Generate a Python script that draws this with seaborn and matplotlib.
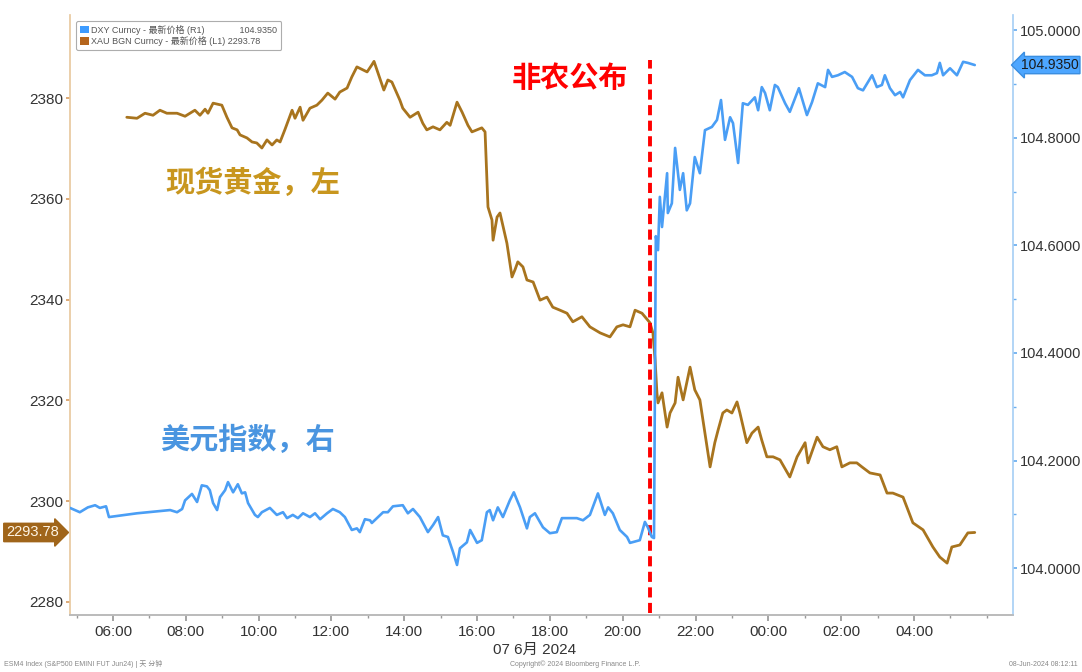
import matplotlib
matplotlib.use("Agg")
import matplotlib.pyplot as plt
import numpy as np
import pandas as pd
import seaborn as sns
from matplotlib.patches import Patch
from matplotlib.ticker import FixedLocator, MultipleLocator, FuncFormatter

# ---------------- data (hours since 00:00, 7 Jun 2024) ----------------
gold_hours = [6.38, 6.66, 6.88, 7.10, 7.29, 7.48, 7.76, 7.98, 8.25, 8.39, 8.53, 8.61, 8.75, 8.99,
              9.13, 9.27, 9.41, 9.49, 9.68, 9.82, 9.95, 10.09, 10.23, 10.37, 10.50, 10.59, 10.72,
              10.92, 11.00, 11.14, 11.22, 11.41, 11.60, 11.74, 11.90, 12.10, 12.23, 12.43, 12.56,
              12.70, 12.98, 13.11, 13.17, 13.28, 13.44, 13.55, 13.66, 13.88, 13.96, 14.16, 14.38,
              14.51, 14.62, 14.79, 14.98, 15.17, 15.26, 15.45, 15.59, 15.75, 15.86, 16.13, 16.22,
              16.30, 16.41, 16.44, 16.55, 16.63, 16.82, 16.96, 17.04, 17.12, 17.26, 17.37, 17.54,
              17.73, 17.92, 18.08, 18.28, 18.47, 18.63, 18.88, 19.10, 19.38, 19.65, 19.84, 20.01,
              20.20, 20.34, 20.53, 20.75, 20.83, 20.89, 20.94, 20.97, 21.08, 21.22, 21.30, 21.44,
              21.52, 21.66, 21.85, 21.98, 22.12, 22.26, 22.40, 22.53, 22.62, 22.75, 22.86, 23.00,
              23.14, 23.22, 23.41, 23.55, 23.72, 23.82, 23.96, 24.13, 24.32, 24.59, 24.79, 25.01,
              25.09, 25.34, 25.50, 25.69, 25.88, 26.02, 26.24, 26.43, 26.57, 26.79, 27.07, 27.26,
              27.42, 27.70, 27.97, 28.25, 28.52, 28.71, 28.91, 29.04, 29.26, 29.48, 29.67]
gold_price = [2376.2, 2376.0, 2377.0, 2376.6, 2377.6, 2377.0, 2377.0, 2376.4, 2377.6, 2376.6,
              2377.8, 2377.0, 2379.0, 2378.6, 2376.2, 2374.1, 2373.7, 2372.7, 2372.1, 2371.3,
              2371.1, 2370.1, 2371.7, 2370.7, 2371.7, 2371.3, 2373.7, 2377.6, 2376.0, 2378.2,
              2375.6, 2378.0, 2378.6, 2379.6, 2381.0, 2379.8, 2381.2, 2382.0, 2384.2, 2386.2,
              2385.2, 2386.6, 2387.3, 2385.0, 2381.6, 2383.6, 2383.2, 2379.6, 2378.0, 2376.2,
              2377.2, 2375.0, 2373.7, 2374.3, 2373.7, 2375.2, 2374.6, 2379.2, 2377.2, 2374.6,
              2373.3, 2374.1, 2373.3, 2358.4, 2355.8, 2351.8, 2356.4, 2357.2, 2351.2, 2344.5,
              2345.9, 2347.5, 2346.5, 2343.9, 2343.5, 2339.9, 2340.5, 2338.5, 2337.9, 2337.3,
              2335.6, 2336.6, 2334.6, 2333.4, 2332.6, 2334.6, 2335.0, 2334.6, 2337.9, 2337.3,
              2335.4, 2333.4, 2328.0, 2321.5, 2319.5, 2321.5, 2314.7, 2317.5, 2319.5, 2324.6,
              2320.1, 2326.6, 2322.1, 2320.1, 2313.5, 2306.8, 2311.6, 2314.1, 2317.5, 2318.1,
              2317.5, 2319.7, 2317.5, 2311.6, 2313.5, 2314.7, 2312.1, 2308.8, 2308.8, 2308.2,
              2304.8, 2308.8, 2311.6, 2307.6, 2312.7, 2310.8, 2310.2, 2310.8, 2306.8, 2307.6,
              2307.6, 2306.8, 2305.6, 2305.2, 2301.6, 2301.6, 2300.8, 2295.7, 2294.3, 2290.9,
              2288.9, 2287.7, 2290.9, 2291.3, 2293.7, 2293.78]

dxy_hours = [4.82, 5.09, 5.31, 5.51, 5.64, 5.81, 5.89, 6.66, 7.57, 7.76, 7.90, 7.98, 8.17, 8.31,
             8.44, 8.58, 8.66, 8.75, 8.86, 8.94, 9.08, 9.16, 9.30, 9.43, 9.54, 9.63, 9.71, 9.90,
             9.98, 10.09, 10.31, 10.50, 10.67, 10.78, 10.94, 11.08, 11.22, 11.41, 11.55, 11.69,
             11.88, 12.04, 12.23, 12.37, 12.56, 12.70, 12.78, 12.92, 13.06, 13.11, 13.42, 13.55,
             13.69, 13.96, 14.10, 14.24, 14.43, 14.65, 14.79, 14.93, 15.06, 15.20, 15.34, 15.45,
             15.53, 15.72, 15.81, 16.00, 16.13, 16.27, 16.35, 16.44, 16.57, 16.71, 16.90, 17.01,
             17.18, 17.37, 17.45, 17.59, 17.81, 18.00, 18.19, 18.33, 18.55, 18.74, 18.91, 19.10,
             19.32, 19.51, 19.60, 19.73, 19.92, 20.12, 20.20, 20.47, 20.61, 20.69, 20.80, 20.86,
             20.91, 20.97, 21.02, 21.08, 21.22, 21.24, 21.35, 21.44, 21.57, 21.66, 21.76, 21.85,
             21.98, 22.12, 22.26, 22.45, 22.59, 22.70, 22.81, 22.95, 23.03, 23.17, 23.30, 23.44,
             23.63, 23.72, 23.82, 23.91, 24.04, 24.18, 24.26, 24.46, 24.59, 24.68, 24.84, 25.06,
             25.20, 25.36, 25.56, 25.64, 25.75, 25.91, 26.10, 26.30, 26.46, 26.60, 26.85, 26.98,
             27.12, 27.20, 27.34, 27.48, 27.62, 27.70, 27.89, 28.11, 28.30, 28.49, 28.63, 28.71,
             28.80, 28.99, 29.18, 29.35, 29.48, 29.67]
dxy_value = [104.112, 104.104, 104.113, 104.117, 104.112, 104.115, 104.095, 104.102, 104.108,
             104.104, 104.110, 104.126, 104.138, 104.123, 104.154, 104.152, 104.145, 104.121,
             104.108, 104.132, 104.145, 104.160, 104.141, 104.156, 104.139, 104.141, 104.121,
             104.099, 104.095, 104.104, 104.112, 104.099, 104.104, 104.093, 104.099, 104.093,
             104.102, 104.095, 104.102, 104.091, 104.102, 104.110, 104.104, 104.095, 104.071,
             104.074, 104.067, 104.091, 104.089, 104.084, 104.104, 104.104, 104.115, 104.117,
             104.102, 104.110, 104.095, 104.067, 104.080, 104.095, 104.061, 104.058, 104.030,
             104.006, 104.037, 104.048, 104.071, 104.047, 104.052, 104.104, 104.108, 104.089,
             104.113, 104.095, 104.126, 104.141, 104.113, 104.074, 104.095, 104.102, 104.076,
             104.065, 104.067, 104.093, 104.093, 104.093, 104.089, 104.099, 104.139, 104.099,
             104.113, 104.102, 104.071, 104.058, 104.047, 104.052, 104.086, 104.076, 104.058,
             104.056, 104.617, 104.591, 104.690, 104.634, 104.734, 104.660, 104.678, 104.781,
             104.703, 104.734, 104.665, 104.678, 104.764, 104.734, 104.814, 104.820, 104.833,
             104.870, 104.796, 104.838, 104.827, 104.753, 104.864, 104.861, 104.875, 104.851,
             104.894, 104.883, 104.851, 104.898, 104.894, 104.864, 104.848, 104.864, 104.892,
             104.842, 104.866, 104.901, 104.894, 104.926, 104.913, 104.916, 104.922, 104.913,
             104.892, 104.888, 104.916, 104.894, 104.898, 104.916, 104.892, 104.879, 104.885,
             104.875, 104.907, 104.926, 104.916, 104.916, 104.920, 104.939, 104.916, 104.929,
             104.916, 104.941, 104.939, 104.935]

nfp_hour = 20.75
gold_last = 2293.78
dxy_last = 104.9350
x_tick_hours = [6, 8, 10, 12, 14, 16, 18, 20, 22, 24, 26, 28]
left_ticks = [2280, 2300, 2320, 2340, 2360, 2380]
right_ticks = [104.0, 104.2, 104.4, 104.6, 104.8, 105.0]

gold_df = pd.DataFrame({"hour": gold_hours, "price": gold_price})
dxy_df = pd.DataFrame({"hour": dxy_hours, "value": dxy_value})

# ---------------- style ----------------
sns.set_theme(style="white")
plt.rcParams['font.family'] = ['Liberation Sans', 'Noto Sans CJK SC', 'DejaVu Sans']
CJK = ['Noto Sans CJK SC', 'DejaVu Sans']
LAT_CJK = ['Liberation Sans', 'Noto Sans CJK SC', 'DejaVu Sans']

gold_line = '#A8741E'
gold_box = '#A0651A'
gold_text = '#C8961E'
blue_line = '#4A9EF5'
blue_text = '#4A95E0'
tick_col = '#333333'

W, H = 1082, 672
fig = plt.figure(figsize=(W / 100, H / 100), dpi=100)
fig.patch.set_facecolor('white')
ax = fig.add_axes([70 / W, 1 - 615 / H, (1013 - 70) / W, 600 / H])
ax2 = ax.twinx()

sns.lineplot(data=gold_df, x="hour", y="price", ax=ax, color=gold_line, lw=2.0,
             estimator=None, sort=False)
sns.lineplot(data=dxy_df, x="hour", y="value", ax=ax2, color=blue_line, lw=1.9,
             estimator=None, sort=False)

ax.set_xlim(4.82, 30.72)
ax.set_ylim(2277.4, 2396.5)
ax2.set_ylim(103.913, 105.028)
ax.set_xlabel('')
ax.set_ylabel('')
ax2.set_ylabel('')

# x axis
ax.xaxis.set_major_locator(FixedLocator(x_tick_hours))
ax.xaxis.set_minor_locator(MultipleLocator(1))
ax.xaxis.set_major_formatter(FuncFormatter(lambda v, p: f"{int(round(v)) % 24:02d}:00"))
ax.tick_params(axis='x', which='major', length=4, color='#999999', labelsize=11,
               labelcolor=tick_col, pad=3, bottom=True)
ax.tick_params(axis='x', which='minor', length=2, color='#999999', bottom=True)

# left axis
ax.yaxis.set_major_locator(FixedLocator(left_ticks))
ax.yaxis.set_major_formatter(FuncFormatter(lambda v, p: f"{v:.0f}"))
ax.tick_params(axis='y', length=3, color='#D9A066', labelsize=11, labelcolor=tick_col,
               pad=2, left=True)

# right axis
ax2.yaxis.set_major_locator(FixedLocator(right_ticks))
ax2.yaxis.set_minor_locator(FixedLocator([104.1, 104.3, 104.5, 104.7, 104.9]))
ax2.yaxis.set_major_formatter(FuncFormatter(lambda v, p: f"{v:.4f}"))
ax2.tick_params(axis='y', which='major', length=3, color='#6AAEF0', labelsize=10.5,
                labelcolor=tick_col, pad=2, right=True)
ax2.tick_params(axis='y', which='minor', length=2, color='#6AAEF0', right=True)

for a in (ax, ax2):
    a.spines['top'].set_visible(False)
    a.spines['bottom'].set_color('#BBBBBB')
    a.spines['left'].set_color('#E8C9A0')
    a.spines['right'].set_color('#A9D0F5')
    a.grid(False)
ax.spines['right'].set_visible(False)
ax2.spines['left'].set_visible(False)

# NFP release line
ax.axvline(nfp_hour, ymin=0.004, ymax=(615 - 60) / 600, color='#FF0000', lw=2.8,
           ls=(0, (2.6, 1.4)), zorder=5)
ax.text(18.55, 2384.0, '非农公布', color='#FF0000', fontsize=21, fontweight='bold',
        family=CJK, ha='center', va='center')
ax.text(7.43, 2363.1, '现货黄金，左', color=gold_text, fontsize=21, fontweight='bold',
        family=CJK, ha='left', va='center')
ax.text(7.29, 2312.1, '美元指数，右', color=blue_text, fontsize=21, fontweight='bold',
        family=CJK, ha='left', va='center')

# last value tags
ax.annotate(f"{gold_last:.2f}", xy=(-0.012, gold_last), xycoords=('axes fraction', 'data'),
            ha='right', va='center', fontsize=10.5, color='#FFF6E6',
            bbox=dict(boxstyle='rarrow,pad=0.15', fc=gold_box, ec=gold_box),
            annotation_clip=False)
ax2.annotate(f"{dxy_last:.4f}", xy=(1.008, dxy_last), xycoords=('axes fraction', 'data'),
             ha='left', va='center', fontsize=10, color='#1A1A1A',
             bbox=dict(boxstyle='larrow,pad=0.12', fc='#4DA6FF', ec='#3A8EE0'),
             annotation_clip=False)

# legend
handles = [Patch(facecolor='#3D9BFF', edgecolor='none',
                 label=f"DXY Curncy - 最新价格 (R1)              {dxy_last:.4f}"),
           Patch(facecolor='#B5651D', edgecolor='none',
                 label=f"XAU BGN Curncy - 最新价格 (L1) {gold_last:.2f}")]
leg = ax2.legend(handles=handles, loc='upper left', bbox_to_anchor=(0.002, 0.998),
                 prop={'family': LAT_CJK, 'size': 6.5}, frameon=True, fancybox=True,
                 edgecolor='#999999', handlelength=0.9, handleheight=0.9,
                 handletextpad=0.3, labelspacing=0.15, borderpad=0.45, labelcolor='#555555')
leg.get_frame().set_linewidth(0.8)

# date label and footer
fig.text(535 / W, 1 - 650 / H, '07 6月 2024', ha='center', va='center', fontsize=11,
         color=tick_col, family=LAT_CJK)
fig.text(4 / W, 1 - 664 / H, 'ESM4 Index (S&P500 EMINI FUT Jun24) | 天 分钟', ha='left',
         va='center', fontsize=5, color='#888888', family=LAT_CJK)
fig.text(575 / W, 1 - 664 / H, 'Copyright© 2024 Bloomberg Finance L.P.', ha='center',
         va='center', fontsize=5, color='#888888')
fig.text(1078 / W, 1 - 664 / H, '08-Jun-2024 08:12:11', ha='right', va='center',
         fontsize=5, color='#888888')

fig.savefig('out.png', dpi=100, facecolor='white')
